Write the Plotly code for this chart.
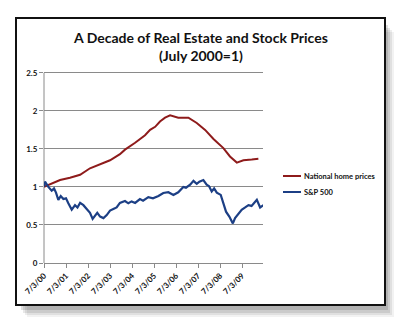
import plotly.graph_objects as go

# Years measured from 7/3/2000 (x = 2000.5 + offset)
home_t = [0.0, 0.42, 0.73, 1.18, 1.64, 2.09, 2.55, 3.0, 3.45, 3.68, 4.14, 4.36, 4.59, 4.82,
          5.05, 5.27, 5.5, 5.73, 6.1, 6.56, 6.94, 7.32, 7.7, 8.15, 8.45, 8.76, 9.06, 9.44, 9.74]
home_v = [1.00, 1.057, 1.09, 1.12, 1.16, 1.245, 1.30, 1.35, 1.43, 1.49, 1.58, 1.63, 1.68, 1.75,
          1.79, 1.86, 1.91, 1.94, 1.91, 1.91, 1.84, 1.75, 1.63, 1.51, 1.40, 1.32, 1.35, 1.36, 1.37]

sp_t = [0.0, 0.045, 0.197, 0.35, 0.455, 0.545, 0.65, 0.76, 0.88, 1.0, 1.1, 1.26, 1.41, 1.52,
        1.64, 1.79, 1.94, 2.09, 2.21, 2.32, 2.42, 2.55, 2.70, 2.85, 3.0, 3.15, 3.30, 3.45,
        3.68, 3.83, 3.98, 4.14, 4.36, 4.5, 4.74, 4.95, 5.2, 5.42, 5.65, 5.88, 6.1, 6.33,
        6.45, 6.64, 6.79, 6.94, 7.06, 7.24, 7.39, 7.5, 7.62, 7.73, 7.85, 8.03, 8.15, 8.27,
        8.42, 8.58, 8.68, 8.83, 8.98, 9.14, 9.29, 9.43, 9.55, 9.67, 9.82, 9.97]
sp_v = [1.00, 1.07, 1.00, 0.95, 0.98, 0.925, 0.83, 0.88, 0.84, 0.85, 0.79, 0.70, 0.76, 0.73,
        0.79, 0.76, 0.71, 0.66, 0.58, 0.63, 0.66, 0.61, 0.59, 0.63, 0.69, 0.71, 0.73, 0.79,
        0.815, 0.785, 0.81, 0.79, 0.84, 0.82, 0.865, 0.85, 0.88, 0.92, 0.93, 0.895, 0.93, 1.00,
        0.99, 1.03, 1.08, 1.04, 1.07, 1.09, 1.03, 1.01, 0.94, 0.98, 0.925, 0.895, 0.785, 0.675,
        0.61, 0.52, 0.59, 0.645, 0.70, 0.73, 0.76, 0.75, 0.785, 0.83, 0.73, 0.76]

tick_labels = ["7/3/00", "7/3/01", "7/3/02", "7/3/03", "7/3/04",
               "7/3/05", "7/3/06", "7/3/07", "7/3/08", "7/3/09"]
y_ticks = [0, 0.5, 1, 1.5, 2, 2.5]
y_tick_labels = ["0", "0.5", "1", "1.5", "2", "2.5"]

series_names = ["National home prices", "S&P 500"]
series_colors = ["#8e1b1b", "#1c3f85"]

base = 2000.5
home_x = [base + t for t in home_t]
sp_x = [base + t for t in sp_t]
tick_vals = [base + i for i in range(len(tick_labels))]

FONT = "Lato"

fig = go.Figure()
fig.add_trace(go.Scatter(x=home_x, y=home_v, mode="lines", name=series_names[0],
                         line=dict(color=series_colors[0], width=2), showlegend=False))
fig.add_trace(go.Scatter(x=sp_x, y=sp_v, mode="lines", name=series_names[1],
                         line=dict(color=series_colors[1], width=2.2), showlegend=False))

# plot area: x 44..263, y 69..263 (px); y range 0..2.55 puts 2.5 at ~73px
L, R, T, B = 44, 263, 69, 263
W, H = R - L, B - T

def px(x):
    return (x - L) / W

def py(y):
    return (B - y) / H

shapes = []
# drop shadow
for i, (dx, dy, op) in enumerate([(9, 12, 0.05), (7, 10, 0.07), (5, 8, 0.09), (3, 5, 0.12)]):
    shapes.append(dict(type="rect", xref="paper", yref="paper", layer="below",
                       x0=px(16 + dx + 2), x1=px(385 + dx), y0=py(305 + dy), y1=py(18 + dy + 2),
                       fillcolor=f"rgba(0,0,0,{op})", line=dict(width=0)))
# frame
shapes.append(dict(type="rect", xref="paper", yref="paper", layer="below",
                   x0=px(16), x1=px(385), y0=py(305), y1=py(18),
                   fillcolor="white", line=dict(color="#111", width=2)))

annotations = []
# manual legend
for i, (nm, col) in enumerate(zip(series_names, series_colors)):
    yy = 176 + i * 16
    shapes.append(dict(type="line", xref="paper", yref="paper", layer="above",
                       x0=px(283), x1=px(301), y0=py(yy), y1=py(yy),
                       line=dict(color=col, width=2)))
    annotations.append(dict(text=nm, xref="paper", yref="paper", x=px(302), y=py(yy),
                            xanchor="left", yanchor="middle", showarrow=False,
                            font=dict(family=FONT, size=7.5, color="#111", weight="bold")))

annotations.append(dict(text="A Decade of Real Estate and Stock Prices<br>(July 2000=1)",
                        xref="paper", yref="paper", x=px(200), y=py(46), xanchor="center",
                        yanchor="middle", showarrow=False, align="center",
                        font=dict(family=FONT, size=14, color="#111", weight="bold")))

fig.update_layout(
    width=400, height=325,
    margin=dict(l=L, r=400 - R, t=T, b=325 - B, pad=0),
    paper_bgcolor="white", plot_bgcolor="rgba(0,0,0,0)",
    shapes=shapes, annotations=annotations,
    showlegend=False,
    xaxis=dict(range=[base, base + 9.95], tickmode="array", tickvals=tick_vals,
               ticktext=tick_labels, tickangle=-45, ticks="outside", ticklen=4,
               tickcolor="#8a8a8a", showgrid=False, zeroline=False,
               showline=True, linecolor="#8a8a8a", linewidth=1,
               tickfont=dict(family=FONT, size=8, color="#111", weight="bold")),
    yaxis=dict(range=[0, 2.55], tickmode="array", tickvals=y_ticks, ticktext=y_tick_labels,
               ticks="outside", ticklen=4, tickcolor="#8a8a8a", showgrid=True,
               gridcolor="#8a8a8a", gridwidth=1, zeroline=False, showline=False,
               tickfont=dict(family=FONT, size=8, color="#111", weight="bold")),
)
# y axis line from 0 to 2.5 only (like the reference)
fig.add_shape(type="line", xref="paper", yref="y", x0=0, x1=0, y0=0, y1=y_ticks[-1],
              line=dict(color="#8a8a8a", width=1), layer="below")

fig.write_html("out.html")
